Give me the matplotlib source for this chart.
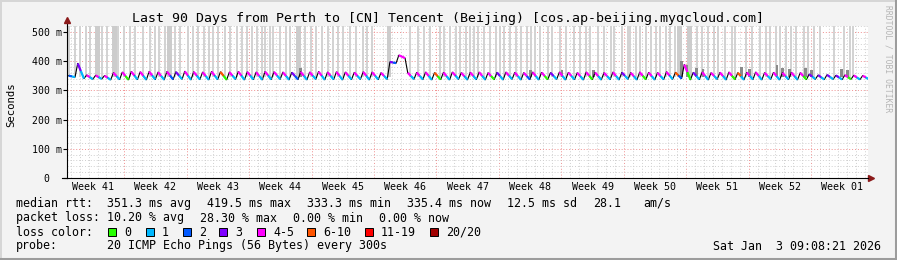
import numpy as np
import matplotlib
matplotlib.use("Agg")
import matplotlib.pyplot as plt
from matplotlib.collections import LineCollection
from matplotlib.lines import Line2D
from matplotlib.patches import Rectangle
from matplotlib.transforms import blended_transform_factory

W, H = 897, 260
MONO = "DejaVu Sans Mono"

TITLE = "Last 90 Days from Perth to [CN] Tencent (Beijing) [cos.ap-beijing.myqcloud.com]"
WEEKS = ["Week 41", "Week 42", "Week 43", "Week 44", "Week 45", "Week 46", "Week 47",
         "Week 48", "Week 49", "Week 50", "Week 51", "Week 52", "Week 01"]
WEEK41_START = -0.58          # days, relative to left edge of graph
Y_TICKS = [0, 100, 200, 300, 400, 500]
Y_LABELS = ["  0", "100 m", "200 m", "300 m", "400 m", "500 m"]

LOSS_LABELS = ["0", "1", "2", "3", "4-5", "6-10", "11-19", "20/20"]
LOSS_COLORS = ["#26ff00", "#00b8ff", "#0059ff", "#7e00ff", "#ff00ff", "#ff5500", "#ff0000", "#a10000"]

# daily median rtt (ms): peak early in the day, trough late in the day
DAY_HIGH = [350, 392, 352, 351, 350, 360, 362, 364, 363, 364,
            362, 364, 363, 365, 363, 362, 364, 363, 362, 364,
            363, 362, 364, 363, 362, 361, 363, 362, 364, 362,
            363, 362, 361, 363, 362, 360, 397, 420, 360, 361,
            362, 360, 361, 362, 360, 361, 362, 360, 361, 362,
            361, 360, 362, 361, 360, 362, 361, 360, 362, 361,
            360, 362, 361, 360, 362, 361, 360, 363, 361, 388,
            361, 362, 360, 361, 362, 360, 361, 362, 360, 361,
            360, 361, 360, 355, 352, 353, 351, 352, 351, 350]
DAY_LOW = [345, 340, 338, 339, 336, 337, 336, 337, 336, 337,
           336, 337, 338, 336, 337, 336, 337, 336, 338, 336,
           337, 336, 337, 338, 336, 337, 336, 338, 336, 337,
           336, 337, 338, 336, 337, 338, 393, 410, 338, 337,
           336, 337, 336, 338, 336, 337, 336, 337, 336, 338,
           336, 337, 336, 337, 338, 336, 337, 336, 337, 336,
           337, 336, 338, 336, 337, 336, 337, 338, 340, 336,
           337, 336, 338, 336, 337, 336, 337, 336, 338, 336,
           337, 336, 337, 338, 337, 338, 337, 338, 337, 338]
# loss category index per sample (see LOSS_LABELS)
HIGH_LOSS = "2344444444" "4434444544" "4444434444" "4444443444" "4544444434" \
            "4444344444" "4434444454" "3444454444" "4443333444"
LOW_LOSS = "1111110111" "1211111011" "1111121111" "1111112411" "1011111011" \
           "1210111101" "1111011120" "1111011111" "1101111011"

# smoke: days with pings reaching the top of the graph
SMOKE_NARROW = [0.2, 0.9, 1.5, 2.1, 2.6, 3.9, 4.5, 5.7, 6.4, 7.1, 7.6, 8.5, 9.3, 9.9,
                10.3, 11.0, 12.1, 12.7, 13.6, 14.1, 14.7, 15.4, 15.9, 16.4, 16.9, 17.7,
                18.3, 19.1, 19.6, 20.2, 20.7, 21.3, 21.9, 22.2, 22.8, 23.1, 23.9, 24.6,
                25.0, 26.7, 27.4, 27.9, 28.6, 29.3, 29.8, 30.4, 30.9, 31.7, 32.4, 33.2,
                33.6, 34.2, 38.5, 39.3, 40.0, 40.7, 41.8, 42.3, 42.9, 43.6, 44.1, 44.7,
                45.2, 45.6, 46.1, 46.7, 47.4, 48.1, 48.5, 49.0, 49.7, 50.3, 50.9, 51.6,
                52.0, 52.5, 53.0, 53.9, 54.4, 55.3, 55.9, 56.8, 57.5, 58.2, 58.6, 59.5,
                60.2, 61.0, 61.3, 62.2, 62.9, 63.1, 63.8, 64.2, 64.9, 65.5, 66.0, 66.5,
                67.1, 67.6, 68.2, 70.6, 71.2, 71.9, 72.5, 73.0, 73.8, 74.5, 74.9, 76.1,
                76.8, 77.7, 78.4, 78.8, 79.5, 79.9, 80.6, 81.2, 81.7, 82.6, 83.1, 83.7,
                84.4, 86.0, 87.1, 87.8, 88.1]
SMOKE_WIDE = [3.4, 5.3, 11.5, 26.0, 36.1, 68.7, 69.8]
DARK_DAYS = [26.2, 52.0, 55.5, 59.0, 68.9, 69.5, 70.6, 71.3, 75.6, 76.5, 79.6, 80.2,
             81.0, 82.8, 83.5, 86.8, 87.5]
DARK_TOPS = [375, 370, 368, 368, 400, 385, 378, 372, 380, 372, 388, 378,
             372, 375, 370, 372, 368]

RTT_LABEL = "median rtt:"
RTT_STATS = ["351.3 ms avg", "419.5 ms max", "333.3 ms min", "335.4 ms now", "12.5 ms sd", "28.1", "am/s"]
RTT_X = [107, 207, 307, 407, 507, 593, 643]
LOSS_LABEL = "packet loss:"
LOSS_STATS = ["10.20 % avg", "28.30 % max", "0.00 % min", "0.00 % now"]
LOSS_X = [107, 200, 293, 379]
LEGEND_X = [108, 146, 183, 219, 257, 307, 365, 430]
PROBE = "20 ICMP Echo Pings (56 Bytes) every 300s"
STAMP = "Sat Jan  3 09:08:21 2026"


def fx(px):
    return px / W


def fy(py):
    return 1 - py / H


fig = plt.figure(figsize=(W / 100, H / 100), dpi=100, facecolor="#f3f3f3")
ax = fig.add_axes([fx(67), fy(178), fx(868 - 67), (178 - 26) / H])
ax.set_facecolor("white")
ax.set_xlim(0, 89.8)
ax.set_ylim(0, 520)

# grid
week_edges = WEEK41_START + 7 * np.arange(1, 13)
ax.set_xticks(week_edges)
ax.set_xticks(np.arange(0.42, 90, 1.0), minor=True)
ax.set_xticklabels([])
ax.set_yticks(Y_TICKS)
ax.set_yticks(np.arange(0, 521, 20), minor=True)
ax.grid(which="minor", color="#cfcfcf", lw=0.7, ls=(0, (1, 2)), zorder=0)
ax.grid(which="major", color="#f09090", lw=0.7, ls=(0, (1, 2)), zorder=0)
ax.set_axisbelow(True)

# smoke
ax.bar(SMOKE_NARROW, 520 - 345, bottom=345, width=0.22, color="#d3d3d3", zorder=1)
ax.bar(SMOKE_WIDE, 520 - 345, bottom=345, width=0.55, color="#cccccc", zorder=1)
ax.bar(DARK_DAYS, np.array(DARK_TOPS) - 345, bottom=345, width=0.3, color="#8a8a8a", zorder=1.5)

# median line
days = np.arange(len(DAY_HIGH))
t = np.ravel(np.column_stack([days + 0.2, days + 0.9]))
v = np.ravel(np.column_stack([DAY_HIGH, DAY_LOW]))
ax.plot(t, v, color="black", lw=0.8, zorder=2)
segs, cols = [], []
for d in days:
    x0, x1 = d + 0.2, d + 0.9
    y0, y1 = DAY_HIGH[d], DAY_LOW[d]
    xm, ym = (x0 + x1) / 2, (y0 + y1) / 2
    segs.append([(x0, y0), (xm, ym)])
    cols.append(LOSS_COLORS[int(HIGH_LOSS[d])])
    segs.append([(xm, ym), (x1, y1)])
    cols.append(LOSS_COLORS[int(LOW_LOSS[d])])
ax.add_collection(LineCollection(segs, colors=cols, lw=1.6, zorder=3))

# axes
for s in ["top", "right"]:
    ax.spines[s].set_visible(False)
for s in ["left", "bottom"]:
    ax.spines[s].set_linewidth(0.8)
ax.tick_params(axis="x", which="both", length=0)
ax.tick_params(axis="y", which="major", length=3, width=0.8, pad=34 * 0.72 - 2.2)
ax.tick_params(axis="y", which="minor", length=0)
ax.set_yticklabels(Y_LABELS, family=MONO, fontsize=7.1)
for lbl in ax.get_yticklabels():
    lbl.set_ha("left")
ax.plot([0, 0], [1, 1.035], color="black", lw=0.8, transform=ax.transAxes, clip_on=False)
ax.plot([0], [1.04], marker="^", ms=4.5, color="#8b1a1a", transform=ax.transAxes, clip_on=False)
ax.plot([1.0035], [0], marker=">", ms=4.5, color="#8b1a1a", transform=ax.transAxes, clip_on=False)
ax.plot([-0.006, 0], [0, 0], color="black", lw=0.8, transform=ax.transAxes, clip_on=False)

trans = blended_transform_factory(ax.transData, ax.transAxes)
for i, wk in enumerate(WEEKS):
    ax.text(WEEK41_START + 7 * i + 3.5, -0.0625, wk, transform=trans, ha="center", va="center",
            family=MONO, fontsize=7.2, clip_on=False)

# texts
fig.text(fx(448), fy(18.5), TITLE, ha="center", va="center", family=MONO, fontsize=9.5)
fig.text(fx(11), fy(105), "Seconds", rotation=90, ha="center", va="center", family=MONO, fontsize=7.7)
fig.text(fx(888), fy(5), "RRDTOOL / TOBI OETIKER", rotation=270, ha="center", va="top",
         family=MONO, fontsize=5.8, color="#b5b5b5")

tk = dict(family=MONO, fontsize=8.4, va="center", ha="left")
fig.text(fx(16), fy(203.5), RTT_LABEL, **tk)
for s, x in zip(RTT_STATS, RTT_X):
    fig.text(fx(x), fy(203.5), s, **tk)
fig.text(fx(16), fy(218), LOSS_LABEL, **tk)
for s, x in zip(LOSS_STATS, LOSS_X):
    fig.text(fx(x), fy(218), s, **tk)
fig.text(fx(16), fy(232), "loss color:", **tk)
for lab, col, x in zip(LOSS_LABELS, LOSS_COLORS, LEGEND_X):
    fig.patches.append(Rectangle((fx(x), fy(235.8)), 7.6 / W, 7.6 / H, transform=fig.transFigure,
                                 facecolor=col, edgecolor="black", lw=0.7))
    fig.text(fx(x + 16), fy(232), lab, **tk)
fig.text(fx(16), fy(246), "probe:", **tk)
fig.text(fx(107), fy(246), PROBE, **tk)
fig.text(fx(713), fy(246), STAMP, **tk)

# 3d frame
fig.lines.append(Line2D([0, 1], [fy(1), fy(1)], transform=fig.transFigure, color="#d6d6d6", lw=1.4))
fig.lines.append(Line2D([fx(1), fx(1)], [0, 1], transform=fig.transFigure, color="#d6d6d6", lw=1.4))
fig.lines.append(Line2D([0, 1], [fy(258.5), fy(258.5)], transform=fig.transFigure, color="#9c9c9c", lw=2.2))
fig.lines.append(Line2D([fx(895.5), fx(895.5)], [0, 1], transform=fig.transFigure, color="#9c9c9c", lw=2.2))

fig.savefig("out.png", dpi=100, facecolor=fig.get_facecolor())
